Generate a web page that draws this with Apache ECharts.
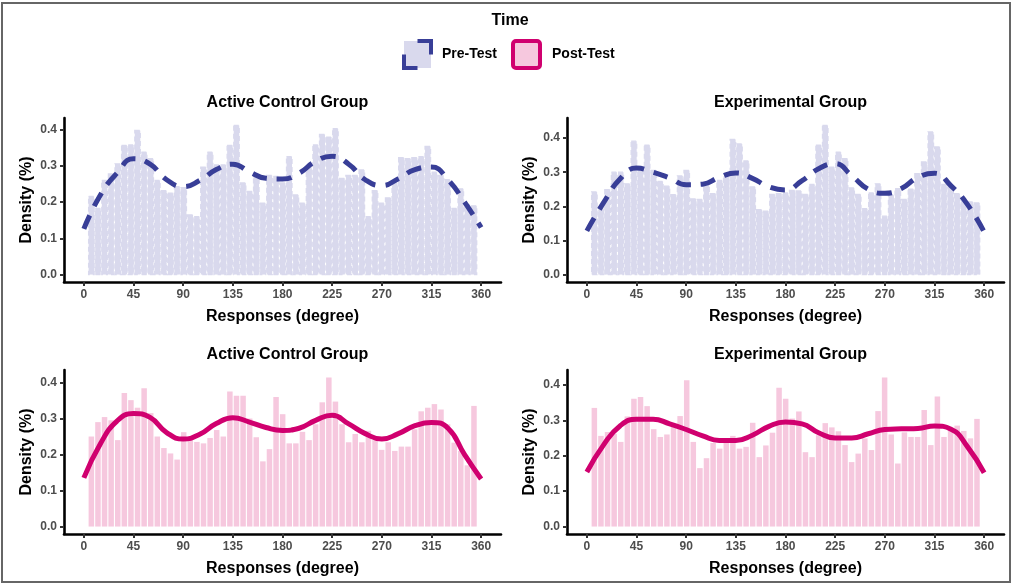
<!DOCTYPE html>
<html><head><meta charset="utf-8">
<script src="https://cdn.jsdelivr.net/npm/echarts@6/dist/echarts.min.js"></script>
<style>html,body{margin:0;padding:0;background:#fff}#c{width:1013px;height:585px}</style>
</head><body><div id="c"></div>
<script>
// ---------------- data ----------------
const BIN_START = 3.8, BIN_END = 356.5;           // histogram range (degrees)
const preActive = [0.216,0.183,0.26,0.278,0.306,0.357,0.358,0.398,0.338,0.32,
  0.26,0.232,0.225,0.243,0.24,0.165,0.16,0.297,0.338,0.303,
  0.303,0.357,0.412,0.253,0.23,0.271,0.197,0.274,0.271,0.253,
  0.326,0.22,0.197,0.297,0.358,0.387,0.38,0.403,0.266,0.274,
  0.274,0.289,0.16,0.232,0.197,0.212,0.253,0.323,0.32,0.323,
  0.326,0.354,0.283,0.274,0.262,0.183,0.237,0.193,0.19];
const preExperimental = [0.242,0.198,0.249,0.30,0.30,0.266,0.391,0.315,0.379,0.305,
  0.273,0.259,0.234,0.289,0.305,0.222,0.22,0.264,0.237,0.276,
  0.286,0.396,0.383,0.333,0.257,0.19,0.186,0.235,0.237,0.239,
  0.247,0.245,0.235,0.264,0.379,0.437,0.315,0.359,0.34,0.254,
  0.235,0.193,0.239,0.266,0.171,0.232,0.252,0.22,0.25,0.296,
  0.33,0.418,0.374,0.264,0.257,0.237,0.216,0.213,0.21];
const postActive = [0.250,0.29,0.304,0.295,0.240,0.371,0.351,0.33,0.384,0.315,
  0.250,0.218,0.203,0.186,0.262,0.248,0.235,0.231,0.246,0.268,
  0.250,0.375,0.363,0.363,0.30,0.248,0.181,0.215,0.36,0.312,
  0.231,0.231,0.263,0.24,0.284,0.345,0.414,0.347,0.284,0.234,
  0.257,0.234,0.266,0.24,0.213,0.234,0.21,0.222,0.222,0.27,
  0.32,0.33,0.34,0.325,0.284,0.233,0.21,0.17,0.335];
const postExperimental = [0.335,0.256,0.267,0.262,0.239,0.311,0.361,0.366,0.340,0.275,
  0.253,0.260,0.281,0.312,0.413,0.239,0.165,0.193,0.236,0.22,
  0.248,0.256,0.22,0.225,0.293,0.196,0.229,0.265,0.392,0.361,
  0.305,0.325,0.21,0.196,0.258,0.292,0.28,0.269,0.23,0.182,
  0.206,0.249,0.216,0.326,0.421,0.26,0.178,0.266,0.253,0.253,
  0.329,0.23,0.367,0.253,0.277,0.285,0.27,0.249,0.304];

const densityX = [0,15,30,45,60,75,90,105,120,135,150,165,180,195,210,225,240,255,270,285,300,315,330,345,360];
const densPreActive = [0.126,0.22,0.28,0.32,0.305,0.262,0.243,0.26,0.29,0.305,0.284,0.266,0.264,0.28,0.313,0.327,0.305,0.262,0.246,0.265,0.29,0.297,0.262,0.2,0.13];
const densPreExperimental = [0.128,0.21,0.28,0.312,0.30,0.283,0.263,0.265,0.285,0.298,0.282,0.257,0.248,0.275,0.31,0.325,0.29,0.25,0.238,0.252,0.285,0.297,0.26,0.205,0.125];
const densPostActive = [0.135,0.23,0.293,0.314,0.303,0.261,0.243,0.256,0.286,0.302,0.29,0.275,0.267,0.273,0.295,0.309,0.285,0.258,0.243,0.258,0.28,0.289,0.273,0.2,0.132];
const densPostExperimental = [0.154,0.23,0.284,0.303,0.303,0.29,0.274,0.256,0.243,0.243,0.258,0.283,0.295,0.29,0.265,0.25,0.25,0.262,0.274,0.276,0.277,0.284,0.275,0.225,0.152];

const xTicks = [0,45,90,135,180,225,270,315,360];
const yTicks = [0,0.1,0.2,0.3,0.4];
const panelTitles = ['Active Control Group','Experimental Group','Active Control Group','Experimental Group'];
const legendTitle = 'Time';
const legendNames = ['Pre-Test','Post-Test'];
const xName = 'Responses (degree)';
const yName = 'Density (%)';

// ---------------- styling / layout ----------------
const FONT = '"Liberation Sans", Arial, Helvetica, sans-serif';
const PRE_FILL = '#d9d9ed', PRE_LINE = '#383e97';
const POST_FILL = '#f6c8de', POST_LINE = '#d0006f';
const grids = [
  {left:64, top:118, width:437, height:164},
  {left:567, top:118, width:437, height:164},
  {left:64, top:370, width:437, height:164},
  {left:567, top:370, width:437, height:164}
];
const panels = [
  {bars:preActive, dens:densPreActive, pre:true},
  {bars:preExperimental, dens:densPreExperimental, pre:true},
  {bars:postActive, dens:densPostActive, pre:false},
  {bars:postExperimental, dens:densPostExperimental, pre:false}
];

const chart = echarts.init(document.getElementById('c'), null, {renderer:'canvas'});

const xAxes = [], yAxes = [], series = [], titles = [];
panels.forEach((p, i) => {
  const n = p.bars.length;
  const bw = (BIN_END - BIN_START) / n;
  const ymax = Math.max.apply(null, p.bars);
  xAxes.push({
    gridIndex:i, type:'value', min:-18, max:378,
    axisLine:{show:true, onZero:false, lineStyle:{color:'#000', width:2.6}},
    axisTick:{show:true, customValues:xTicks, length:4, lineStyle:{color:'#333', width:2}},
    axisLabel:{customValues:xTicks, color:'#4d4d4d', fontSize:12, fontWeight:'bold', fontFamily:FONT, margin:7},
    splitLine:{show:false},
    name:xName, nameLocation:'middle', nameGap:27,
    nameTextStyle:{fontSize:16, fontWeight:'bold', color:'#000', fontFamily:FONT}
  });
  yAxes.push({
    gridIndex:i, type:'value', min:-0.05*ymax, max:1.05*ymax,
    axisLine:{show:true, onZero:false, lineStyle:{color:'#000', width:2.6}},
    axisTick:{show:true, customValues:yTicks, length:4, lineStyle:{color:'#333', width:2}},
    axisLabel:{customValues:yTicks, formatter:v => v.toFixed(1), color:'#4d4d4d', fontSize:12, fontWeight:'bold', fontFamily:FONT, margin:7},
    splitLine:{show:false},
    name:yName, nameLocation:'middle', nameGap:29,
    nameTextStyle:{fontSize:16, fontWeight:'bold', color:'#000', fontFamily:FONT}
  });
  const barData = p.bars.map((v, k) => [BIN_START + bw*(k+0.5), v]);
  const style = p.pre
    ? {fill:PRE_FILL, stroke:PRE_FILL, lineWidth:1.3, lineDash:[5,3]}
    : {fill:POST_FILL};
  series.push({
    type:'custom', xAxisIndex:i, yAxisIndex:i, data:barData, silent:true,
    renderItem:(params, api) => {
      const c = api.value(0), h = api.value(1);
      const a = api.coord([c - bw/2, 0]);
      const b = api.coord([c + bw/2, h]);
      return {type:'rect', shape:{x:a[0]+0.55, y:b[1], width:b[0]-a[0]-1.1, height:a[1]-b[1]}, style:style};
    }
  });
  series.push({
    type:'line', xAxisIndex:i, yAxisIndex:i, smooth:0.5, showSymbol:false, silent:true,
    data:densityX.map((x, k) => [x, p.dens[k]]),
    lineStyle: p.pre ? {color:PRE_LINE, width:5, type:[15,10], cap:'butt'} : {color:POST_LINE, width:5}
  });
  titles.push({
    text:panelTitles[i], left:grids[i].left + grids[i].width/2, top: i < 2 ? 90 : 342,
    textAlign:'center',
    textStyle:{fontSize:16, fontWeight:'bold', color:'#000', fontFamily:FONT}
  });
});

const graphic = [
  {type:'rect', shape:{x:2, y:3, width:1008, height:579}, style:{fill:'none', stroke:'#666', lineWidth:2}, silent:true},
  {type:'text', x:510, y:21, style:{text:legendTitle, fontSize:16, fontWeight:'bold', fontFamily:FONT, fill:'#000', textAlign:'center', textVerticalAlign:'middle'}},
  {type:'rect', shape:{x:404, y:41, width:27, height:27}, style:{fill:PRE_FILL, stroke:PRE_LINE, lineWidth:4, lineDash:[27,27], lineDashOffset:40.5}},
  {type:'text', x:442, y:54, style:{text:legendNames[0], fontSize:14, fontWeight:'bold', fontFamily:FONT, fill:'#000', textVerticalAlign:'middle'}},
  {type:'rect', shape:{x:513, y:41, width:27, height:27, r:3}, style:{fill:POST_FILL, stroke:POST_LINE, lineWidth:4}},
  {type:'text', x:552, y:54, style:{text:legendNames[1], fontSize:14, fontWeight:'bold', fontFamily:FONT, fill:'#000', textVerticalAlign:'middle'}}
];

chart.setOption({
  animation:false,
  backgroundColor:'#fff',
  title:titles,
  grid:grids,
  xAxis:xAxes,
  yAxis:yAxes,
  series:series,
  graphic:graphic
});
</script></body></html>
